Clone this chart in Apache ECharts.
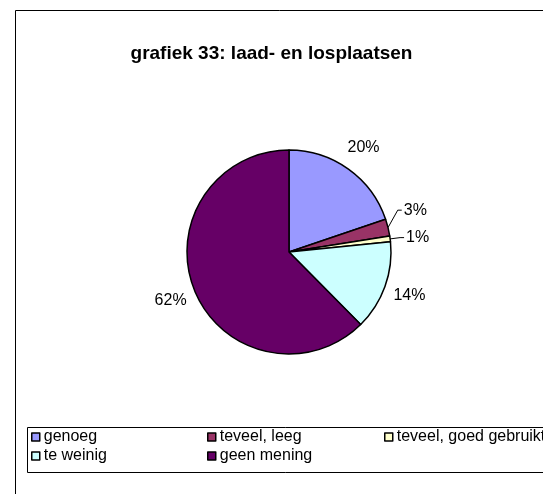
<!DOCTYPE html>
<html>
<head>
<meta charset="utf-8">
<script src="https://cdn.jsdelivr.net/npm/echarts@6/dist/echarts.min.js"></script>
<style>
  html, body { margin: 0; padding: 0; background: #fff; }
  #main { width: 543px; height: 494px; }
</style>
</head>
<body>
<div id="main"></div>
<script>
// categorieën en waarden (aandeel in %)
var categories = ['genoeg', 'teveel, leeg', 'teveel, goed gebruikt', 'te weinig', 'geen mening'];
var values = [19.8, 2.7, 0.9, 14.2, 62.4];
var colors = ['#9999FF', '#993366', '#FFFFCC', '#CCFFFF', '#660066'];
// kleine stukken: label buiten met verbindingslijn, grote: label los naast de taart
var smallSlice = [false, true, true, false, false];

var myChart = echarts.init(document.getElementById('main'));

function pctLabel(p) {
  return Math.round(p.percent) + '%';
}

var labelFont = {
  fontFamily: 'Liberation Sans',
  fontSize: 16,
  color: '#000'
};

// hoofdtaart met lijntjes voor de kleine stukken
var pieData = categories.map(function (name, i) {
  return {
    name: name,
    value: values[i],
    itemStyle: { color: colors[i] },
    label: { show: smallSlice[i] },
    labelLine: { show: smallSlice[i] }
  };
});

// onzichtbare ring om de grote labels op de middenhoek te zetten
var ringData = categories.map(function (name, i) {
  return {
    name: name,
    value: values[i],
    label: { show: !smallSlice[i] }
  };
});

// legenda in drie kolommen
var legendCols = [
  [categories[0], categories[3]],
  [categories[1], categories[4]],
  [categories[2]]
];
var legendLeft = [31, 207, 384];

var legends = legendCols.map(function (col, i) {
  return {
    data: col,
    left: legendLeft[i],
    top: 428,
    orient: 'vertical',
    padding: 0,
    itemWidth: 8,
    itemHeight: 8,
    itemGap: 1,
    icon: 'rect',
    selectedMode: false,
    textStyle: {
      fontFamily: 'Liberation Sans',
      fontSize: 16,
      color: '#000',
      lineHeight: 18,
      padding: [0, 0, 0, -1]
    },
    itemStyle: { borderColor: '#000', borderWidth: 1.5 }
  };
});

// 3%-label omhoog schuiven, lijntje meenemen
var shiftUp = 15;
function smallLabelLayout(p) {
  if (p.dataIndex !== 1 || !p.labelLinePoints) return {};
  var pts = p.labelLinePoints;
  return {
    dy: -shiftUp,
    labelLinePoints: [
      pts[0],
      [pts[1][0], pts[1][1] - shiftUp],
      [pts[2][0], pts[2][1] - shiftUp]
    ]
  };
}

var option = {
  animation: false,
  title: {
    text: 'grafiek 33: laad- en losplaatsen',
    left: 'center',
    top: 39,
    textStyle: {
      fontFamily: 'Liberation Sans',
      fontSize: 19,
      fontWeight: 'bold',
      color: '#000'
    }
  },
  graphic: [
    {
      type: 'rect',
      shape: { x: 15.5, y: 10.5, width: 700, height: 700 },
      style: { fill: 'none', stroke: '#000', lineWidth: 1 },
      silent: true
    },
    {
      type: 'rect',
      shape: { x: 27.5, y: 427.5, width: 600, height: 45 },
      style: { fill: 'none', stroke: '#000', lineWidth: 1 },
      silent: true
    }
  ],
  legend: legends,
  series: [
    {
      type: 'pie',
      center: [289, 252],
      radius: 102,
      startAngle: 90,
      clockwise: true,
      avoidLabelOverlap: false,
      itemStyle: { borderColor: '#000', borderWidth: 1.5 },
      label: Object.assign({
        position: 'outside',
        distanceToLabelLine: 2,
        formatter: pctLabel
      }, labelFont),
      labelLine: {
        length: 10,
        length2: 4,
        lineStyle: { color: '#000', width: 1 }
      },
      labelLayout: smallLabelLayout,
      emphasis: { disabled: true },
      data: pieData
    },
    {
      type: 'pie',
      center: [289, 252],
      radius: [102, 148],
      startAngle: 90,
      clockwise: true,
      silent: true,
      itemStyle: { color: 'rgba(0,0,0,0)', borderWidth: 0 },
      label: Object.assign({
        position: 'inside',
        formatter: pctLabel
      }, labelFont),
      labelLine: { show: false },
      emphasis: { disabled: true },
      data: ringData
    }
  ]
};

myChart.setOption(option);
</script>
</body>
</html>
